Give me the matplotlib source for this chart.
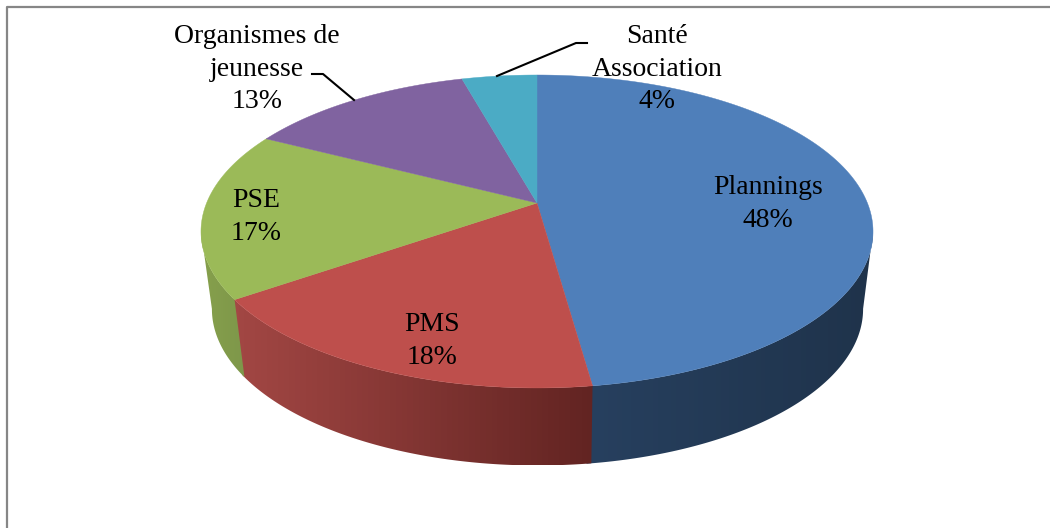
import numpy as np
import matplotlib
matplotlib.use("Agg")
import matplotlib.pyplot as plt
from matplotlib.patches import Polygon

labels = ["Plannings", "PMS", "PSE", "Organismes de\njeunesse", "Santé\nAssociation"]
values = [47.8, 17.5, 17.3, 13.1, 4.3]

colors = ["#4F7FBA", "#BE4F4C", "#9BBA58", "#8063A0", "#4BABC5"]
# side colour at the left and at the right of each slice
side_left = ["#27405F", "#A34744", "#86A04C", "#6B5488", "#3C8FA5"]
side_right = ["#1F334B", "#622422", "#7E974A", "#6B5488", "#3C8FA5"]
label_pos = [(768, 204), (432, 341), (256, 217), (257, 69), (657, 69)]

# perspective of the disc, pixel units
cx, cy = 537, 203
tilt = 0.182
ax_x = 330.4
ax_y = 151.3
depth = 77.5
shrink = 0.969
# the side is seen between these two fractions of the turn
side_start = 0.279
side_end = 0.721


def top_point(frac):
    t = 2 * np.pi * np.asarray(frac)
    u = np.sin(t)
    v = np.cos(t)
    d = 1 + tilt * v
    return cx + ax_x * u / d, cy - ax_y * v / d


def low_point(frac):
    x, y = top_point(frac)
    return cx + 0.5 + (x - cx) * shrink, y + depth


fig = plt.figure(figsize=(10.5, 5.28), dpi=100)
ax = fig.add_axes([0, 0, 1, 1])
ax.set_xlim(0, 1050)
ax.set_ylim(528, 0)
ax.axis("off")

# frame, only left and top are in the picture
ax.plot([7, 7, 1050], [528, 7, 7], color="#868686", lw=1.6, zorder=1)

fracs = np.cumsum([0] + values) / sum(values)

# sides, a horizontal gradient clipped to each slice
for i in range(len(values)):
    start = max(fracs[i], side_start)
    # a little past the end so no light seam shows under the next slice
    end = min(fracs[i + 1] + 0.002, side_end)
    if start >= end:
        continue
    f = np.linspace(start, end, 300)
    x1, y1 = top_point(f)
    x2, y2 = low_point(f)
    xs = np.r_[x1, x2[::-1]]
    ys = np.r_[y1, y2[::-1]]
    lo, hi = xs.min(), xs.max()
    c1 = np.array(matplotlib.colors.to_rgb(side_left[i]))
    c2 = np.array(matplotlib.colors.to_rgb(side_right[i]))
    grad = np.linspace(0, 1, 64)[None, :, None]
    img = c1[None, None, :] + (c2 - c1)[None, None, :] * grad
    clip = Polygon(np.c_[xs, ys], closed=True, transform=ax.transData, fc="none", ec="none")
    ax.add_patch(clip)
    im = ax.imshow(img, extent=(lo, hi, ys.max(), ys.min()), aspect="auto", zorder=2 + i * 0.01)
    im.set_clip_path(clip)
ax.set_xlim(0, 1050)
ax.set_ylim(528, 0)

# top of the pie
for i in range(len(values)):
    f = np.linspace(fracs[i], fracs[i + 1], 300)
    x, y = top_point(f)
    ax.fill(np.r_[cx, x], np.r_[cy, y], color=colors[i], lw=0.3, zorder=3)

# leader lines
ax.plot([312, 323, 354], [74, 74, 100], color="black", lw=1.5, zorder=4)
ax.plot([497, 576, 587], [76, 43, 43], color="black", lw=1.5, zorder=4)

for name, val, pos in zip(labels, values, label_pos):
    ax.text(pos[0], pos[1], f"{name}\n{val:.0f}%", ha="center", va="center", fontsize=20,
            family="Liberation Serif", linespacing=1.42, color="black", zorder=5)

fig.savefig("out.png", dpi=100)
